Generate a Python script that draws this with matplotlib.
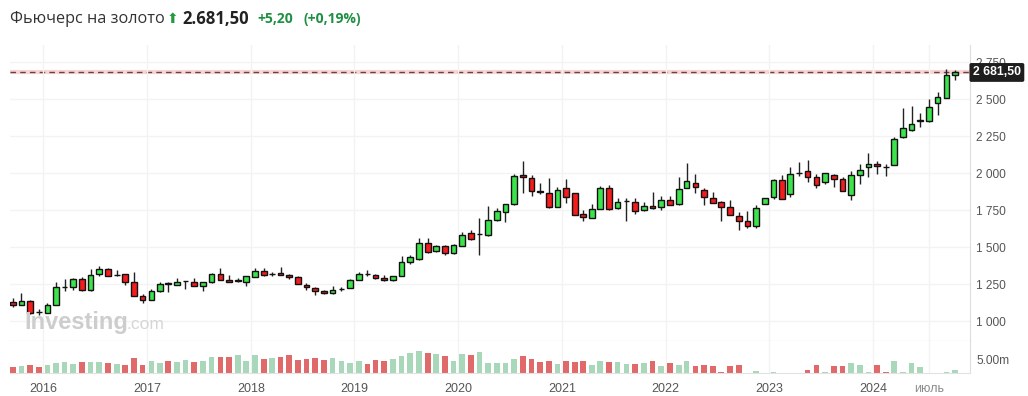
import numpy as np
import pandas as pd
import matplotlib
matplotlib.use("Agg")
import matplotlib.pyplot as plt
import matplotlib.dates as mdates
from matplotlib.transforms import blended_transform_factory

# monthly gold futures candles, Sep 2015 .. Oct 2024
months = pd.date_range("2015-09-01", "2024-10-01", freq="MS")

opens = [1131, 1111, 1136, 1064,
         1058, 1111, 1232, 1232, 1285, 1214, 1318, 1352, 1314, 1318, 1269, 1173,
         1142, 1202, 1256, 1245, 1271, 1267, 1238, 1269, 1321, 1276, 1275, 1269,
         1298, 1343, 1318, 1325, 1314, 1298, 1247, 1225, 1205, 1189, 1215, 1225,
         1281, 1320, 1312, 1290, 1276, 1307, 1399, 1419, 1526, 1472, 1508, 1463,
         1512, 1596, 1590, 1583, 1686, 1739, 1793, 1989, 1966, 1880, 1866, 1770,
         1900, 1864, 1726, 1699, 1759, 1900, 1766, 1812, 1806, 1753, 1780, 1773,
         1820, 1793, 1900, 1933, 1886, 1833, 1806, 1775, 1713, 1675, 1641, 1793,
         1837, 1953, 1860, 2003, 2013, 1973, 1940, 1991, 1960, 1853, 1986, 2042,
         2064, 2046, 2054, 2243, 2293, 2355, 2355, 2473, 2511, 2662]
highs = [1158, 1191, 1145, 1084,
         1124, 1263, 1285, 1296, 1298, 1352, 1374, 1363, 1345, 1320, 1334, 1187,
         1218, 1263, 1263, 1292, 1275, 1292, 1267, 1327, 1358, 1310, 1290, 1305,
         1359, 1359, 1332, 1365, 1320, 1303, 1258, 1232, 1209, 1238, 1229, 1285,
         1330, 1348, 1318, 1310, 1307, 1441, 1448, 1560, 1560, 1517, 1515, 1521,
         1603, 1615, 1699, 1780, 1765, 1795, 1995, 2082, 1992, 1935, 1966, 1906,
         1959, 1864, 1753, 1793, 1916, 1918, 1833, 1833, 1833, 1806, 1877, 1850,
         1850, 1975, 2069, 1998, 1900, 1877, 1815, 1820, 1740, 1748, 1784, 1833,
         1960, 1986, 2040, 2075, 2093, 1998, 2000, 1997, 1975, 2015, 2060, 2138,
         2082, 2064, 2243, 2439, 2455, 2409, 2500, 2547, 2703, 2698]
lows = [1094, 1108, 1050, 1045,
        1058, 1107, 1202, 1209, 1203, 1203, 1309, 1303, 1303, 1245, 1173, 1124,
        1142, 1198, 1196, 1245, 1219, 1236, 1205, 1262, 1276, 1263, 1263, 1236,
        1298, 1305, 1307, 1312, 1285, 1251, 1214, 1176, 1185, 1185, 1205, 1222,
        1276, 1308, 1285, 1272, 1272, 1303, 1386, 1414, 1463, 1466, 1445, 1457,
        1508, 1550, 1450, 1574, 1680, 1670, 1785, 1870, 1850, 1860, 1765, 1770,
        1800, 1719, 1676, 1699, 1759, 1750, 1760, 1677, 1722, 1748, 1760, 1753,
        1788, 1788, 1900, 1870, 1786, 1800, 1681, 1721, 1615, 1632, 1632, 1793,
        1826, 1824, 1842, 1982, 1942, 1900, 1926, 1908, 1882, 1820, 1931, 1975,
        1997, 1982, 2054, 2236, 2286, 2311, 2345, 2394, 2511, 2630]
closes = [1111, 1140, 1058, 1062,
          1111, 1232, 1233, 1285, 1214, 1314, 1352, 1307, 1315, 1265, 1173, 1142,
          1207, 1254, 1254, 1267, 1272, 1238, 1267, 1321, 1276, 1263, 1276, 1305,
          1341, 1310, 1319, 1312, 1301, 1251, 1231, 1202, 1192, 1211, 1216, 1276,
          1321, 1318, 1290, 1276, 1303, 1403, 1432, 1526, 1466, 1508, 1463, 1517,
          1581, 1558, 1592, 1686, 1746, 1795, 1982, 1973, 1882, 1877, 1770, 1886,
          1837, 1719, 1703, 1759, 1902, 1759, 1806, 1815, 1746, 1780, 1764, 1820,
          1788, 1893, 1949, 1906, 1837, 1800, 1770, 1721, 1677, 1646, 1766, 1833,
          1953, 1824, 1993, 2004, 1973, 1920, 2000, 1960, 1882, 1986, 2024, 2060,
          2047, 2044, 2230, 2304, 2331, 2356, 2450, 2518, 2662, 2681.5]
# volume, millions of contracts
volumes = [2.3, 2.7, 3.2, 2.3,
           3.1, 3.8, 4.2, 3.5, 4.2, 4.2, 4.2, 3.8, 3.5, 3.1, 5.8, 3.1,
           4.6, 3.8, 4.6, 4.2, 5.0, 4.2, 4.6, 6.2, 6.2, 6.2, 6.9, 4.6,
           6.9, 5.4, 5.8, 6.2, 6.9, 5.0, 5.4, 5.8, 5.0, 5.8, 4.6, 3.8,
           4.6, 3.5, 4.9, 4.6, 5.4, 6.5, 7.7, 8.5, 7.7, 7.3, 6.5, 4.6,
           7.3, 6.9, 8.1, 3.8, 3.8, 3.8, 5.4, 6.5, 5.4, 4.2, 4.6, 3.5,
           4.6, 4.2, 4.6, 3.1, 4.6, 4.2, 4.2, 3.5, 3.5, 3.8, 4.6, 2.7,
           3.8, 3.1, 4.6, 2.7, 3.1, 2.7, 0.4, 2.7, 3.1, 0.0, 0.6, 0.0,
           0.5, 0.0, 0.0, 0.0, 1.0, 3.1, 0.4, 2.7, 2.7, 3.8, 3.1, 0.4,
           3.1, 0.4, 4.6, 0.4, 3.8, 2.3, 0.0, 0.0, 0.4, 1.2]

last_price = 2681.5
price_ticks = [1000, 1250, 1500, 1750, 2000, 2250, 2500, 2750]
year_labels = ["2016", "2017", "2018", "2019", "2020", "2021", "2022", "2023", "2024"]

UP = "#3de34c"
DOWN = "#f41c1c"
VOL_UP = "#a9d7b9"
VOL_DOWN = "#e06a6a"
GRID = "#f3f3f3"

plt.rcParams["font.family"] = ["Liberation Sans", "DejaVu Sans"]

fig = plt.figure(figsize=(10.28, 3.96), dpi=100)
W, H = 1028, 396
ax = fig.add_axes([10 / W, (H - 341) / H, 960 / W, 296 / H])
vax = fig.add_axes([10 / W, (H - 373) / H, 960 / W, 32 / H], sharex=ax)

x = mdates.date2num(months + pd.Timedelta(days=15))
o = np.array(opens, float)
c = np.array(closes, float)
up = c >= o

# candles
ax.vlines(x, lows, highs, color="#222222", lw=1, zorder=2)
body = np.where(np.abs(c - o) < 2, 2, c - o)
ax.bar(x, body, bottom=o, width=20, color=np.where(up, UP, DOWN),
       edgecolor="#111111", lw=1, zorder=3)

# last price line
ax.axhline(last_price, color="#f8d4d4", lw=3, zorder=1)
ax.axhline(last_price, color="#6a4040", lw=1, dashes=(4, 3), zorder=1.5)
ax.text(1.003, last_price, "2 681,50", transform=blended_transform_factory(ax.transAxes, ax.transData),
        ha="left", va="center", color="white", fontsize=8.8, fontweight="bold", zorder=5,
        bbox=dict(boxstyle="round,pad=0.28,rounding_size=0.15", fc="#1e1e1e", ec="none"), clip_on=False)

# volume
vax.bar(x, volumes, width=20, color=np.where(up, VOL_UP, VOL_DOWN), zorder=2)

year_pos = mdates.date2num([pd.Timestamp(f"{y}-01-01") for y in year_labels])
jul_pos = mdates.date2num(pd.Timestamp("2024-07-16"))
xt = list(year_pos) + [jul_pos]

ax.set_xlim(mdates.date2num(pd.Timestamp("2015-09-06")), mdates.date2num(pd.Timestamp("2024-12-08")))
ax.set_ylim(867, 2867)
vax.set_ylim(0, 12.3)

for a in (ax, vax):
    a.set_xticks(xt)
    a.grid(True, axis="x", color=GRID, lw=1, zorder=0)
    for s in ("top", "left"):
        a.spines[s].set_visible(False)
    a.spines["right"].set_color("#dddddd")
    a.yaxis.tick_right()
    a.tick_params(length=0, labelsize=8.6, labelcolor="#555555")

ax.set_yticks(price_ticks)
ax.set_yticklabels([f"{v:,}".replace(",", " ") for v in price_ticks])
ax.grid(True, axis="y", color=GRID, lw=1, zorder=0)
ax.spines["bottom"].set_color("#c8c8c8")
ax.tick_params(axis="x", labelbottom=False)
ax.tick_params(axis="y", pad=4)

vax.set_yticks([5.0])
vax.set_yticklabels(["5.00m"])
vax.tick_params(axis="y", pad=5)
vax.spines["bottom"].set_color("#e2e2e2")
vax.set_xticklabels(year_labels + ["июль"])
vax.tick_params(axis="x", pad=7, labelsize=9)
vax.get_xticklabels()[-1].set_color("#8a8a8a")

# watermark
fig.text(24 / W, (H - 329) / H, "Investing", fontsize=17, fontweight="heavy", color="#cdcdcd")
fig.text(126 / W, (H - 329) / H, ".com", fontsize=12.5, color="#d6d6d6")

# header
hdr = ["Open Sans", "DejaVu Sans"]
fig.text(10 / W, (H - 19) / H, "Фьючерс на золото", fontsize=11.7, color="#333333", va="center", family=hdr)
fig.text(167 / W, (H - 19) / H, "⬆", fontsize=10, color="#1f9a3f", va="center",
         family=["DejaVu Sans"])
fig.text(182 / W, (H - 19) / H, "2.681,50", fontsize=12, fontweight="bold", color="#222222", va="center", family=hdr)
fig.text(257 / W, (H - 19) / H, "+5,20", fontsize=10, fontweight="bold", color="#1f8f44", va="center", family=hdr)
fig.text(303 / W, (H - 19) / H, "(+0,19%)", fontsize=10, fontweight="bold", color="#1f8f44", va="center", family=hdr)

fig.savefig("out.png", dpi=100)
